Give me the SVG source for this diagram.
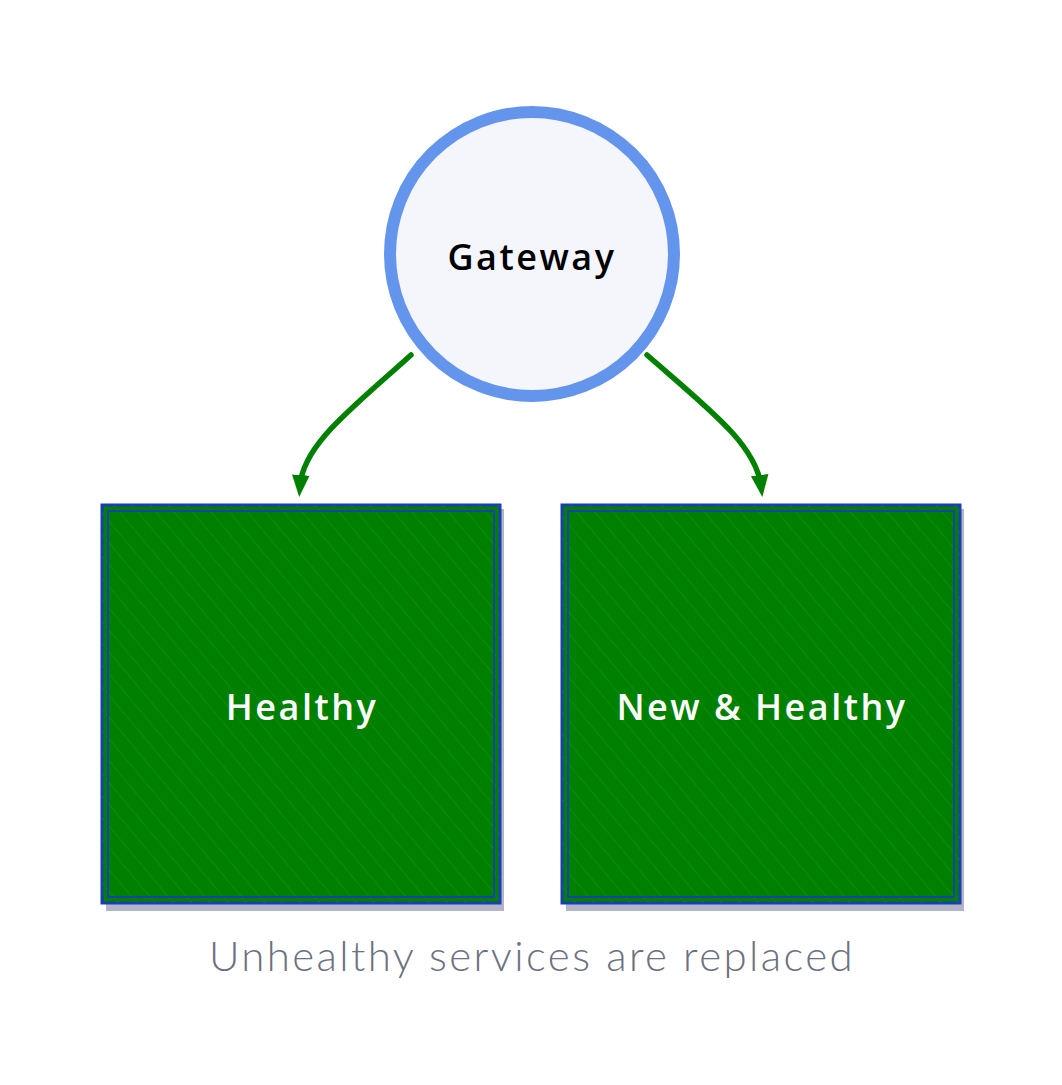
<svg xmlns="http://www.w3.org/2000/svg" width="1062" height="1085" viewBox="0 0 1062 1085">
<style>
.lbl{font-family:"Open Sans","Liberation Sans",sans-serif;font-weight:600;font-size:36px;letter-spacing:2.5px;text-anchor:middle;dominant-baseline:central}
.box{fill:#008000}
.shadow{fill:#b4b4c8}
.edge{fill:none;stroke:#008000;stroke-width:5.5;stroke-linecap:round}
</style>
<defs>
<marker id="ah" viewBox="0 0 10 10" refX="5" refY="5" markerWidth="4" markerHeight="4" orient="auto" markerUnits="strokeWidth">
<path d="M0,1 L10,5 L0,9 Z" fill="#008000"/>
</marker>
<pattern id="hatch" width="14" height="14" patternUnits="userSpaceOnUse" patternTransform="rotate(-40)">
<line x1="0" y1="0" x2="0" y2="14" stroke="#ffffff" stroke-opacity="0.12" stroke-width="1"/>
</pattern>
</defs>
<rect width="1062" height="1085" fill="#ffffff"/>
<g id="gateway">
<circle cx="536" cy="258" r="142" fill="#b4b4c8"/>
<circle cx="532" cy="254" r="142" fill="#f4f6fc" stroke="#6495ed" stroke-width="12"/>
<text class="lbl" x="532" y="256" fill="#000000">Gateway</text>
</g>
<g id="healthy">
<rect class="shadow" x="106" y="509" width="398" height="402"/>
<rect class="box" x="102" y="505" width="398" height="398" stroke="#1a3fb0" stroke-width="3"/>
<rect x="102" y="505" width="398" height="398" fill="url(#hatch)"/>
<rect x="105" y="508" width="392" height="392" fill="none" stroke="#008000" stroke-width="2"/>
<rect x="108" y="511" width="386" height="386" fill="none" stroke="#1a3fb0" stroke-width="2"/>
<text class="lbl" x="302" y="706" fill="#ffffff">Healthy</text>
</g>
<g id="new-healthy">
<rect class="shadow" x="566" y="509" width="398" height="402"/>
<rect class="box" x="562" y="505" width="398" height="398" stroke="#1a3fb0" stroke-width="3"/>
<rect x="562" y="505" width="398" height="398" fill="url(#hatch)"/>
<rect x="565" y="508" width="392" height="392" fill="none" stroke="#008000" stroke-width="2"/>
<rect x="568" y="511" width="386" height="386" fill="none" stroke="#1a3fb0" stroke-width="2"/>
<text class="lbl" x="762" y="706" fill="#ffffff">New &amp; Healthy</text>
</g>
<g id="connectors">
<path class="edge" d="M411,355 C350,410 303,445 300,486" marker-end="url(#ah)"/>
<path class="edge" d="M647,355 C710,410 756,445 761,486" marker-end="url(#ah)"/>
</g>
<g id="caption">
<text x="532" y="955" font-family="Lato,'Liberation Sans',sans-serif" font-weight="300" font-size="42" letter-spacing="2.4" fill="#6b7080" text-anchor="middle" dominant-baseline="central">Unhealthy services are replaced</text>
</g>
</svg>
